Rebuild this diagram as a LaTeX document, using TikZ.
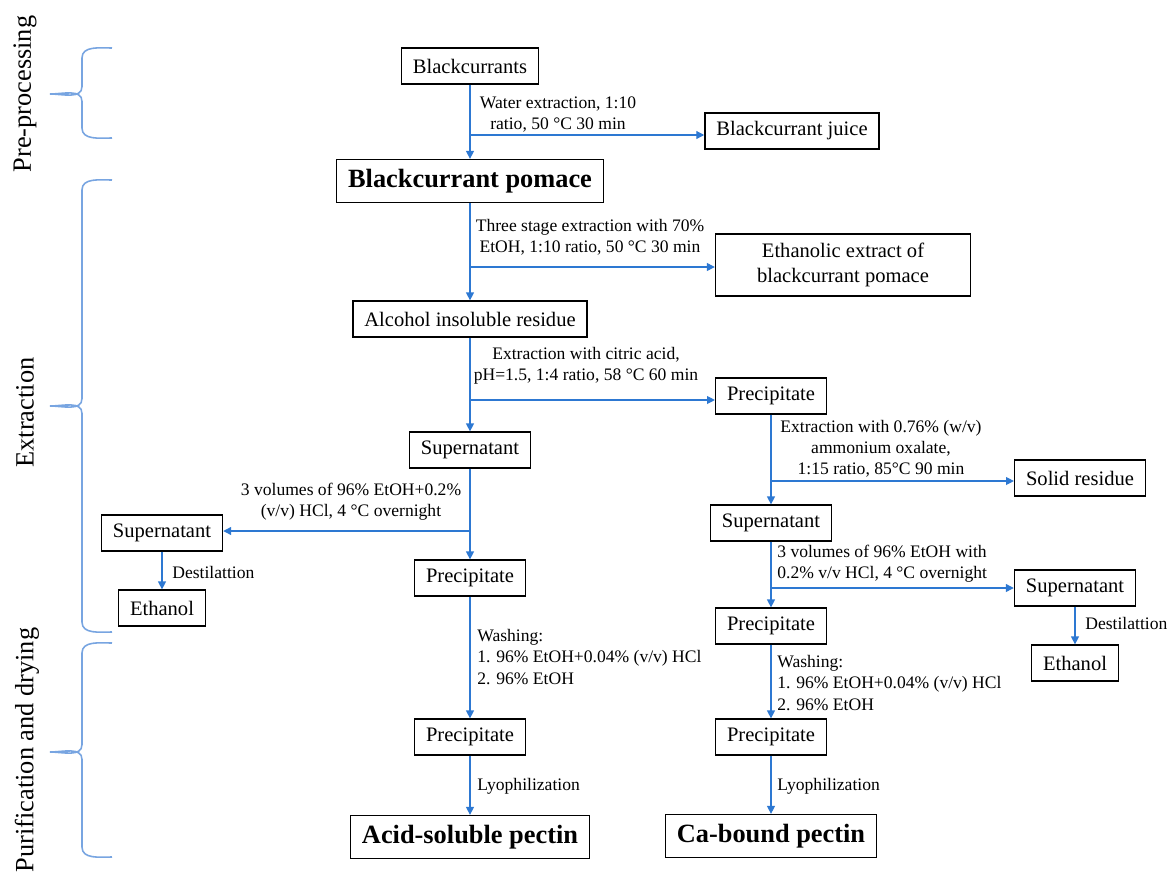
\documentclass[tikz,border=0pt]{standalone}
\usepackage{fontspec}
\setmainfont{Liberation Serif}
\usepackage{tikz}
\usepackage{xcolor}
\definecolor{flowblue}{RGB}{45,120,210}
\definecolor{braceblue}{RGB}{120,165,225}
\usetikzlibrary{arrows.meta}
\tikzset{stepbox/.style={draw=black,line width=0.8pt,inner xsep=6.5pt,
    minimum height=20.4pt,font=\fontsize{11.7}{14.2}\selectfont},
 bigbox/.style={stepbox,minimum height=24.4pt,
    font=\fontsize{15}{18}\selectfont\bfseries},
 lbl/.style={font=\fontsize{10}{12}\selectfont,align=center,inner sep=0pt},
 lbll/.style={lbl,align=left,anchor=west},
 flow/.style={draw=flowblue,line width=0.7pt,
    -{Triangle[length=4.5pt,width=4.5pt]}},
 secbrace/.style={draw=braceblue,line width=0.9pt},
 sect/.style={rotate=90,font=\fontsize{15}{18}\selectfont},
 }

\begin{document}
\begin{tikzpicture}
        \useasboundingbox (0,0) rectangle (23.38,-17.46);
        \node[sect] (pre) at (0.5,-1.88) {Pre-processing};
        \node[sect] (extr) at (0.5,-8.25) {Extraction};
        \node[sect] (puri) at (0.54,-15.0) {Purification and drying};
        \draw[secbrace] (2.24,-0.96) to[out=180,in=90] (1.64,-1.16) -- (1.64,-1.73)
            to[out=-90,in=0] (1.0,-1.88) to[out=0,in=90] (1.64,-2.03) -- (1.64,-2.56)
            to[out=-90,in=180] (2.24,-2.76);
        \draw[secbrace] (2.24,-3.6) to[out=180,in=90] (1.64,-3.8) -- (1.64,-7.97)
            to[out=-90,in=0] (1.0,-8.12) to[out=0,in=90] (1.64,-8.27) -- (1.64,-12.44)
            to[out=-90,in=180] (2.24,-12.64);
        \draw[secbrace] (2.24,-12.86) to[out=180,in=90] (1.64,-13.06) -- (1.64,-14.89)
            to[out=-90,in=0] (1.0,-15.04) to[out=0,in=90] (1.64,-15.19) -- (1.64,-16.94)
            to[out=-90,in=180] (2.24,-17.14);

        \node[stepbox] (berries) at (9.4,-1.32) {Blackcurrants};
        \node[stepbox] (juice) at (15.84,-2.62) {Blackcurrant juice};
        \node[bigbox] (pomace) at (9.4,-3.62) {Blackcurrant pomace};
        \node[stepbox,minimum width=5.1cm,minimum height=1.24cm,align=center] (ethext)
            at (16.86,-5.3) {Ethanolic extract of\\blackcurrant pomace};
        \node[stepbox] (air) at (9.4,-6.38) {Alcohol insoluble residue};
        \node[stepbox] (supA) at (9.4,-9.0) {Supernatant};
        \node[stepbox] (supL) at (3.24,-10.66) {Supernatant};
        \node[stepbox] (ethL) at (3.24,-12.16) {Ethanol};
        \node[stepbox] (precB) at (9.4,-11.56) {Precipitate};
        \node[stepbox] (precC) at (9.4,-14.74) {Precipitate};
        \node[bigbox] (acid) at (9.4,-16.74) {Acid-soluble pectin};
        \node[stepbox] (precA) at (15.42,-7.92) {Precipitate};
        \node[stepbox] (solid) at (21.6,-9.56) {Solid residue};
        \node[stepbox] (supB) at (15.42,-10.46) {Supernatant};
        \node[stepbox] (supR) at (21.5,-11.76) {Supernatant};
        \node[stepbox] (ethR) at (21.5,-13.26) {Ethanol};
        \node[stepbox] (precD) at (15.42,-12.52) {Precipitate};
        \node[stepbox] (precE) at (15.42,-14.74) {Precipitate};
        \node[bigbox] (cabound) at (15.42,-16.72) {Ca-bound pectin};

        \node[lbl] (waterlbl) at (11.16,-2.29) {Water extraction, 1:10\\ratio, 50 °C 30 min};
        \node[lbl] (stagelbl) at (11.8,-4.74) {Three stage extraction with 70\%\\EtOH, 1:10 ratio, 50 °C 30 min};
        \node[lbl] (citriclbl) at (11.72,-7.32) {Extraction with citric acid,\\pH=1.5, 1:4 ratio, 58 °C 60 min};
        \node[lbl] (vollbl) at (7.02,-10.04) {3 volumes of 96\% EtOH+0.2\%\\(v/v) HCl, 4 °C overnight};
        \node[lbll] (destlblL) at (3.44,-11.44) {Destilattion};
        \node[lbll] (washlblA) at (9.54,-13.14) {Washing:\\1. 96\% EtOH+0.04\% (v/v) HCl\\2. 96\% EtOH};
        \node[lbll] (lyolblA) at (9.54,-15.72) {Lyophilization};
        \node[lbl] (oxlbl) at (17.62,-8.98) {Extraction with 0.76\% (w/v)\\ammonium oxalate,\\1:15 ratio, 85°C 90 min};
        \node[lbll] (vol2lbl) at (15.54,-11.28) {3 volumes of 96\% EtOH with\\0.2\% v/v HCl, 4 °C overnight};
        \node[lbll] (destlblR) at (21.7,-12.46) {Destilattion};
        \node[lbll] (washlblB) at (15.54,-13.66) {Washing:\\1. 96\% EtOH+0.04\% (v/v) HCl\\2. 96\% EtOH};
        \node[lbll] (lyolblB) at (15.54,-15.72) {Lyophilization};

        \coordinate (b1) at (9.4,-2.7);
        \coordinate (b2) at (9.4,-5.34);
        \coordinate (b3) at (9.4,-8.0);
        \coordinate (b4) at (9.4,-10.62);
        \coordinate (b5) at (15.42,-9.62);
        \coordinate (b6) at (15.42,-11.76);
        \draw[flow] (berries) -- (pomace);
        \draw[flow] (b1) -- (b1 -| juice.west);
        \draw[flow] (pomace) -- (air);
        \draw[flow] (b2) -- (b2 -| ethext.west);
        \draw[flow] (air) -- (supA);
        \draw[flow] (b3) -- (b3 -| precA.west);
        \draw[flow] (supA) -- (precB);
        \draw[flow] (b4) -- (b4 -| supL.east);
        \draw[flow] (supL) -- (ethL);
        \draw[flow] (precB) -- (precC);
        \draw[flow] (precC) -- (acid);
        \draw[flow] (precA) -- (supB);
        \draw[flow] (b5) -- (b5 -| solid.west);
        \draw[flow] (supB) -- (precD);
        \draw[flow] (b6) -- (b6 -| supR.west);
        \draw[flow] (supR) -- (ethR);
        \draw[flow] (precD) -- (precE);
        \draw[flow] (precE) -- (cabound);
    \end{tikzpicture}
\end{document}
